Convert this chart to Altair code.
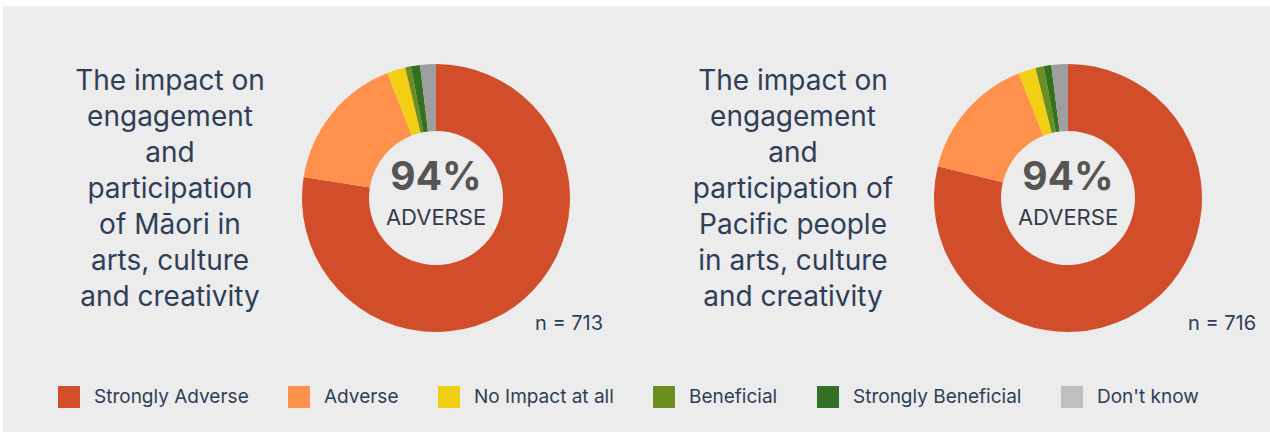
import altair as alt
import pandas as pd

categories = ["Strongly Adverse", "Adverse", "No Impact at all",
              "Beneficial", "Strongly Beneficial", "Don't know"]
maori_pct = [77.5, 16.6, 2.2, 0.7, 1.1, 1.9]
pacific_pct = [78.8, 15.2, 2.1, 1.0, 0.9, 2.0]
pie_colors = ["#D24E2B", "#FF914D", "#F2CF12", "#6B8E1F", "#33701F", "#9E9E9E"]
legend_colors = ["#D24D2A", "#FF914D", "#F0CF12", "#6B8E1F", "#347025", "#BFBFBF"]

title_maori = ["The impact on", "engagement", "and", "participation",
               "of Māori in", "arts, culture", "and creativity"]
title_pacific = ["The impact on", "engagement", "and", "participation of",
                 "Pacific people", "in arts, culture", "and creativity"]
headline = "94%"
headline_sub = "ADVERSE"
n_maori = "n = 713"
n_pacific = "n = 716"

FONT = "Inter"
TEXT_COLOR = "#2F3E58"
W, H = 1267, 426

df = pd.DataFrame({
    "category": categories * 2,
    "order": list(range(len(categories))) * 2,
    "group": ["maori"] * len(categories) + ["pacific"] * len(categories),
    "value": maori_pct + pacific_pct,
})

base = alt.Chart(df)

panel_bg = alt.Chart(alt.Data(values=[{}])).mark_rect(color="#ECECEC").encode(
    x=alt.value(0), x2=alt.value(W), y=alt.value(0), y2=alt.value(H)
)


def donut(group, cx, cy):
    return base.transform_filter(alt.datum.group == group).mark_arc(
        radius=134, innerRadius=67
    ).encode(
        theta=alt.Theta("value:Q", stack=True),
        color=alt.Color("category:N",
                        scale=alt.Scale(domain=categories, range=pie_colors),
                        legend=None),
        order=alt.Order("order:Q", sort="ascending"),
        x=alt.value(cx),
        y=alt.value(cy),
    )


def label(text, x, y, size, weight="normal", color=TEXT_COLOR, align="center"):
    return alt.Chart(alt.Data(values=[{}])).mark_text(
        text=text, fontSize=size, fontWeight=weight, font=FONT, color=color,
        align=align, baseline="alphabetic", lineHeight=36,
    ).encode(x=alt.value(x), y=alt.value(y))


legend_layer = base.transform_filter("false").mark_square().encode(
    color=alt.Color(
        "category:N",
        scale=alt.Scale(domain=categories, range=legend_colors),
        legend=alt.Legend(
            orient="none", legendX=55, legendY=380, direction="horizontal",
            columns=6, title=None, symbolType="square", symbolSize=484,
            symbolStrokeWidth=0, symbolOpacity=1, labelFontSize=19,
            labelFont=FONT, labelColor=TEXT_COLOR, labelOffset=14,
            columnPadding=39, labelLimit=300,
        ),
    )
)

chart = alt.layer(
    panel_bg,
    donut("maori", 433, 192),
    donut("pacific", 1065, 192),
    label(title_maori, 167, 84, 28),
    label(title_pacific, 790, 84, 28),
    label(headline, 433, 184, 39, weight="bold", color="#555555"),
    label(headline, 1065, 184, 39, weight="bold", color="#555555"),
    label(headline_sub, 433, 219, 22, color="#333A48"),
    label(headline_sub, 1065, 219, 22, color="#333A48"),
    label(n_maori, 532, 324, 20, align="left"),
    label(n_pacific, 1185, 324, 20, align="left"),
    legend_layer,
).resolve_scale(color="independent").properties(
    width=W, height=H,
    padding={"left": 3, "top": 6, "right": 0, "bottom": 0},
    autosize=alt.AutoSizeParams(type="none"),
    background="#FFFFFF",
).configure_view(stroke=None)

chart.save("out.html", embed_options={"renderer": "svg", "actions": False})
